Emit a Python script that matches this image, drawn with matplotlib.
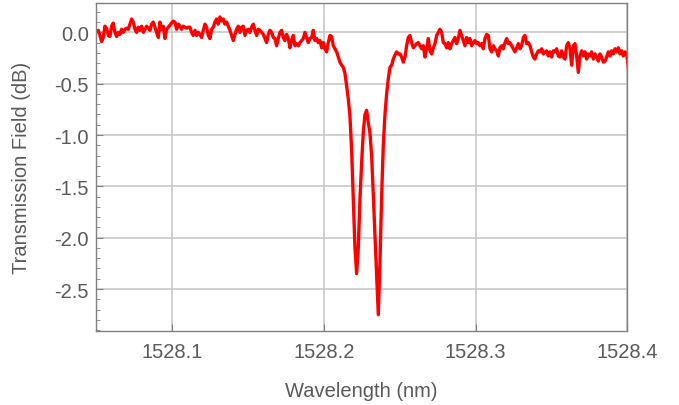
import numpy as np
import matplotlib
matplotlib.use("Agg")
import matplotlib.pyplot as plt
from matplotlib.ticker import MultipleLocator

# Wavelength grid of the measured spectrum (nm)
wl_start = 1528.049
wl_step = 0.0010988

# Transmission (dB)
transmission = [
    # 1528.049 - 1528.117
    0.00, 0.01, 0.02, -0.03, -0.09, -0.05, 0.06, 0.04, -0.03, -0.04,
    0.06, 0.09, 0.00, -0.04, 0.00, -0.02, 0.03, 0.00, 0.03, 0.04,
    0.03, 0.08, 0.13, 0.10, 0.03, 0.00, 0.05, 0.02, 0.06, 0.00,
    0.03, 0.06, 0.04, 0.02, 0.08, 0.10, 0.05, 0.00, -0.05, 0.10,
    0.03, 0.06, -0.06, 0.03, 0.05, 0.07, 0.09, 0.11, 0.10, 0.03,
    0.08, 0.06, 0.03, 0.06, 0.05, 0.04, 0.05, 0.05, 0.00, -0.03,
    0.02, -0.03, 0.00,
    # 1528.118 - 1528.190
    -0.02, -0.05, 0.02, 0.08, 0.05, -0.03, -0.06, 0.03, 0.05, 0.10,
    0.13, 0.08, 0.15, 0.11, 0.13, 0.08, 0.10, 0.06, 0.02, -0.03,
    -0.08, -0.02, 0.03, 0.06, 0.00, 0.05, 0.06, -0.03, 0.02, 0.03,
    0.00, 0.05, 0.08, 0.02, -0.03, 0.03, 0.02, 0.00, -0.02, -0.06,
    -0.10, -0.02, 0.02, 0.00, -0.05, -0.06, -0.13, -0.06, 0.00, 0.02,
    -0.05, -0.08, -0.02, -0.06, -0.15, -0.08, -0.03, -0.13, -0.11, -0.13,
    -0.10, -0.08, -0.06, 0.00, -0.05, -0.10,
    # 1528.191 - 1528.213
    -0.06, -0.05, 0.02, -0.08, -0.06, -0.10, -0.08, -0.15, -0.10, -0.16,
    -0.19, -0.10, -0.03, -0.04, -0.13, -0.16, -0.19, -0.24, -0.29, -0.32,
    -0.34,
    # resonance doublet
    -0.40, -0.52, -0.65, -0.82, -1.15, -1.62, -2.10, -2.35, -2.10, -1.62,
    -1.27, -0.97, -0.80, -0.76, -0.88, -0.98, -1.20, -1.59, -1.98, -2.37,
    -2.75, -2.24, -1.59, -1.10, -0.80, -0.60, -0.45, -0.34,
    # 1528.245 - 1528.322
    -0.32, -0.26, -0.22, -0.19, -0.21,
    -0.21, -0.24, -0.29, -0.24, -0.13, -0.05, -0.03, -0.10, -0.15, -0.13,
    -0.11, -0.10, -0.13, -0.16, -0.13, -0.24, -0.16, -0.06, -0.18, -0.21,
    -0.15, -0.11, -0.03, 0.00, 0.03, 0.00, -0.10, -0.11, -0.15, -0.10,
    -0.16, -0.11, -0.08, -0.05, -0.11, -0.06, 0.02, -0.03, -0.08, -0.13,
    -0.05, -0.10, -0.06, -0.13, -0.10, -0.08, -0.11, -0.10, -0.13, -0.11,
    -0.16, -0.06, -0.02, -0.03, -0.16, -0.19, -0.13, -0.16, -0.18, -0.23,
    -0.15, -0.13, -0.16, -0.10, -0.06, -0.11,
    # 1528.323 - 1528.401
    -0.10, -0.13, -0.16, -0.19, -0.15, -0.11, -0.16, -0.13, -0.05, -0.03,
    -0.11, -0.10, -0.13, -0.19, -0.24, -0.26, -0.21, -0.18, -0.19, -0.16,
    -0.21, -0.19, -0.18, -0.23, -0.19, -0.24, -0.18, -0.19, -0.16, -0.23,
    -0.24, -0.18, -0.24, -0.26, -0.13, -0.10, -0.16, -0.32, -0.13, -0.11,
    -0.23, -0.39, -0.23, -0.18, -0.23, -0.19, -0.26, -0.21, -0.23, -0.19,
    -0.26, -0.21, -0.24, -0.28, -0.21, -0.24, -0.29, -0.28, -0.24, -0.19,
    -0.23, -0.18, -0.21, -0.16, -0.19, -0.15, -0.21, -0.18, -0.23, -0.19,
    -0.21, -0.34,
]
wavelength = wl_start + wl_step * np.arange(len(transmission))

x_ticks = [1528.1, 1528.2, 1528.3, 1528.4]
y_ticks = [0.0, -0.5, -1.0, -1.5, -2.0, -2.5]

plt.rcParams['font.family'] = ['Liberation Sans', 'DejaVu Sans']

fig = plt.figure(figsize=(6.79, 4.06), dpi=100)
ax_w = (627.4 - 96) / 679
ax_h = (332 - 4) / 406
ax = fig.add_axes([96 / 679, 1 - 332 / 406, ax_w, ax_h])

frame_col = '#808080'
text_col = '#5a5a5a'

ax.set_xlim(1528.0497, 1528.4)
ax.set_ylim(-2.909, 0.286)

ax.set_xticks(x_ticks)
ax.set_xticklabels([f"{t:.1f}" for t in x_ticks])
ax.set_yticks(y_ticks)
ax.set_yticklabels([f"{t:.1f}" for t in y_ticks])
ax.yaxis.set_minor_locator(MultipleLocator(0.1))

ax.grid(True, which='major', color='#c8c8c8', linewidth=1.2)
ax.set_axisbelow(True)

for s in ax.spines.values():
    s.set_color(frame_col)
    s.set_linewidth(1.0)

ax.tick_params(axis='both', which='major', direction='in', length=5, width=0.8,
               color=frame_col, labelcolor=text_col, labelsize=14.5)
ax.tick_params(axis='x', which='major', pad=8)
ax.tick_params(axis='y', which='major', pad=5)
ax.tick_params(axis='y', which='minor', direction='in', length=3, width=0.6,
               color=frame_col)

ax.plot(wavelength, transmission, color='#ff0000', linewidth=2.4,
        solid_joinstyle='round', clip_on=True)

ax.set_xlabel('Wavelength (nm)', fontsize=14.5, color=text_col)
ax.set_ylabel('Transmission Field (dB)', fontsize=14.5, color=text_col)
ax.xaxis.set_label_coords(0.5, (332 - 392) / 328)
ax.yaxis.set_label_coords((22 - 96) / (627.4 - 96), 0.5)
ax.xaxis.label.set_va('center')
ax.yaxis.label.set_va('center')

fig.savefig('out.png', dpi=100)
